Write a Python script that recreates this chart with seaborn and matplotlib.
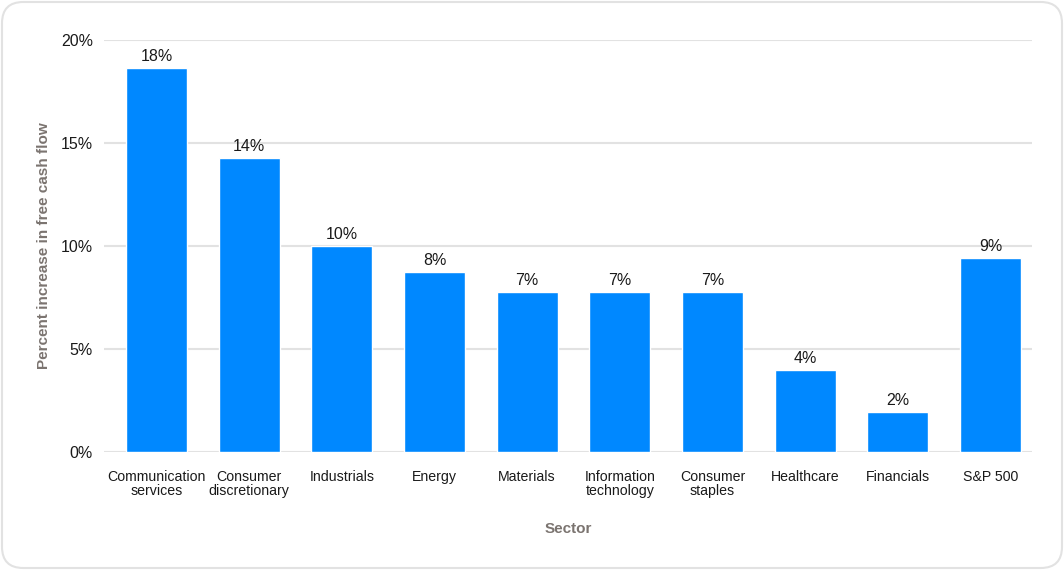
import matplotlib
matplotlib.use("Agg")
import matplotlib.pyplot as plt
from matplotlib.patches import FancyBboxPatch
import seaborn as sns
import pandas as pd

sectors = ["Communication\nservices", "Consumer\ndiscretionary", "Industrials", "Energy",
           "Materials", "Information\ntechnology", "Consumer\nstaples", "Healthcare",
           "Financials", "S&P 500"]
values = [18.64, 14.27, 10.0, 8.74, 7.77, 7.77, 7.77, 3.98, 1.94, 9.42]
labels = ["18%", "14%", "10%", "8%", "7%", "7%", "7%", "4%", "2%", "9%"]
yticks = [0, 5, 10, 15, 20]
ytick_labels = ["0%", "5%", "10%", "15%", "20%"]

sns.set_theme(style="white")
plt.rcParams['font.family'] = ['Liberation Sans', 'DejaVu Sans']

W, H = 1064, 570
fig = plt.figure(figsize=(W / 100, H / 100), dpi=100)
fig.patch.set_facecolor("white")

card = FancyBboxPatch((2 / W, 2 / H), (W - 4) / W, (H - 4) / H,
                      boxstyle="round,pad=0,rounding_size=0.02",
                      transform=fig.transFigure, facecolor="none",
                      edgecolor="#e2e2e2", linewidth=1.5, mutation_aspect=W / H,
                      zorder=-1)
fig.patches.append(card)

ax = fig.add_axes([104 / W, (H - 452) / H, (1032 - 104) / W, (452 - 40) / H])
ax.set_facecolor("none")

df = pd.DataFrame({"Sector": sectors, "Value": values})
sns.barplot(data=df, x="Sector", y="Value", color="#0088ff", saturation=1,
            width=0.66, ax=ax, zorder=3)

for i, (v, lab) in enumerate(zip(values, labels)):
    ax.text(i, v + 0.2, lab, ha="center", va="bottom", fontsize=11.5, color="#1a1a1a")

ax.set_xlim(-0.567, len(sectors) - 1 + 0.448)
ax.set_ylim(0, 20)
ax.set_yticks(yticks)
ax.set_yticklabels(ytick_labels, fontsize=11.5, color="#1a1a1a")
ax.tick_params(axis="x", labelsize=10.2, colors="#1a1a1a", length=0, pad=13)
ax.tick_params(axis="y", length=0, pad=8)
for t in ax.get_xticklabels():
    t.set_linespacing(1.0)
ax.grid(axis="y", color="#e2e2e2", linewidth=1.5, zorder=0)
ax.set_axisbelow(True)
for s in ax.spines.values():
    s.set_visible(False)

ax.set_xlabel("Sector", fontsize=11, fontweight="bold", color="#7b7470", labelpad=17)
ax.set_ylabel("Percent increase in free cash flow", fontsize=11, fontweight="bold",
              color="#7b7470", labelpad=7)

fig.savefig("out.png", dpi=100)
